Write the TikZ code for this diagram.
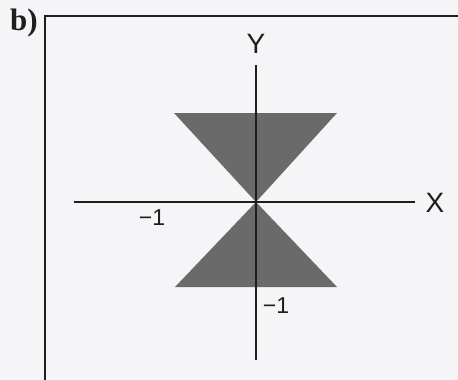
\documentclass[tikz,border=0pt]{standalone}
\usepackage{fontspec}
\setmainfont{Liberation Serif}
\newfontfamily\axisfont{Liberation Sans}
\usetikzlibrary{positioning}
\definecolor{PlotBack}{HTML}{F5F5F7}
\definecolor{PlotInk}{HTML}{1E1E1E}
\definecolor{PlotCone}{HTML}{6A6A6A}
\tikzset{
  plotFrame/.style={draw=PlotInk, line width=2pt},
  plotAxis/.style={draw=PlotInk, line width=1.8pt},
  plotCone/.style={fill=PlotCone, draw=none},
  axisName/.style={inner sep=0pt, text=PlotInk, font=\axisfont\fontsize{28}{30}\selectfont},
  tickName/.style={inner sep=0pt, text=PlotInk, font=\axisfont\fontsize{23}{25}\selectfont},
  panelTag/.style={inner sep=0pt, text=PlotInk, font=\bfseries\fontsize{31}{34}\selectfont}
}
\begin{document}
\begin{tikzpicture}[x=1pt, y=-1pt]
  \useasboundingbox[fill=PlotBack] (0,0) rectangle (458,380);
  % panel frame, open to the right and bottom
  \coordinate (frameTR) at (458,16);
  \coordinate (frameTL) at (45,16);
  \coordinate (frameBL) at (45,380);
  \draw[plotFrame] (frameTR) -- (frameTL) -- (frameBL);
  \node[panelTag] (tag) at (24,23) {b)};

  % the two cones
  \coordinate (origin) at (256,202);
  \coordinate (coneUL) at (174,113);
  \coordinate (coneUR) at (337,113);
  \coordinate (coneLL) at (175,287);
  \coordinate (coneLR) at (337,287);
  \fill[plotCone] (coneUL) -- (coneUR) -- (origin) -- cycle;
  \fill[plotCone] (coneLL) -- (coneLR) -- (origin) -- cycle;

  % axes
  \coordinate (xmin) at (74,202);
  \coordinate (xmax) at (415,202);
  \coordinate (ymax) at (256,65);
  \coordinate (ymin) at (256,360);
  \draw[plotAxis] (xmin) -- (xmax);
  \draw[plotAxis] (ymin) -- (ymax);
  \node[axisName] (xname) at (435,203) {X};
  \node[axisName] (yname) at (256,44) {Y};
  \node[tickName] (xtick) at (152,218) {−1};
  \node[tickName] (ytick) at (276,306) {−1};
\end{tikzpicture}
\end{document}
